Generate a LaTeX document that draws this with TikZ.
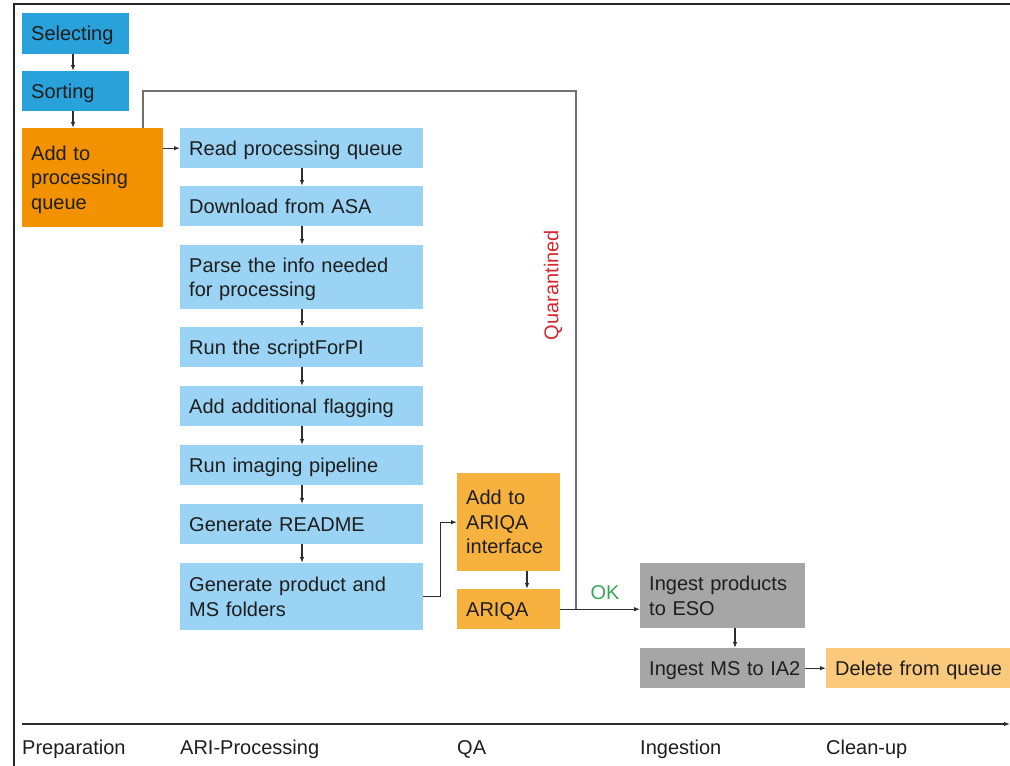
\documentclass[tikz,border=0pt]{standalone}
\usepackage{fontspec}
\setmainfont{Liberation Sans}
\usetikzlibrary{arrows.meta}
\definecolor{bluedark}{HTML}{29A1DB}
\definecolor{bluelight}{HTML}{9AD3F3}
\definecolor{orangedark}{HTML}{F39200}
\definecolor{orangemid}{HTML}{F6B13E}
\definecolor{orangelight}{HTML}{FAC97C}
\definecolor{greybox}{HTML}{A6A6A6}
\definecolor{txt}{HTML}{1E1E1E}
\definecolor{conn}{HTML}{2E2E2E}
\definecolor{qline}{HTML}{707070}
\definecolor{okgreen}{HTML}{3BA55A}
\definecolor{qred}{HTML}{D7262F}
\tikzset{
  box/.style={anchor=north west, inner xsep=9pt, inner ysep=0pt, align=left,
    text=txt, font=\fontsize{20}{24.5}\selectfont, text height=14.3pt, text depth=0pt},
  two/.style={text depth=24.5pt},
  three/.style={text depth=49pt},
  arr/.style={draw=conn, line width=1.1pt, -{Latex[length=6pt,width=4.5pt]}},
  axlabel/.style={anchor=base west, inner sep=0pt, text=txt, font=\fontsize{20}{24}\selectfont},
}
\begin{document}
\begin{tikzpicture}[x=1pt,y=-1pt]
\useasboundingbox (0,0) rectangle (1010,766);
% frame
\draw[line width=2pt, black!85] (14,767) -- (14,3.5) -- (1011,3.5);
% preparation
\node[box, fill=bluedark, text width=89pt, minimum height=41pt] (sel) at (22,13) {Selecting};
\node[box, fill=bluedark, text width=89pt, minimum height=40pt] (sort) at (22,71) {Sorting};
\node[box, three, fill=orangedark, text width=123pt, minimum height=99pt] (addq) at (22,128) {Add to\\processing\\queue};
% processing
\node[box, fill=bluelight, text width=225pt, minimum height=40pt] (read) at (180,128) {Read processing queue};
\node[box, fill=bluelight, text width=225pt, minimum height=40pt] (dl) at (180,186) {Download from ASA};
\node[box, two, fill=bluelight, text width=225pt, minimum height=64pt] (parse) at (180,245) {Parse the info needed\\for processing};
\node[box, fill=bluelight, text width=225pt, minimum height=40pt] (run) at (180,327) {Run the scriptForPI};
\node[box, fill=bluelight, text width=225pt, minimum height=40pt] (flag) at (180,386) {Add additional flagging};
\node[box, fill=bluelight, text width=225pt, minimum height=40pt] (img) at (180,445) {Run imaging pipeline};
\node[box, fill=bluelight, text width=225pt, minimum height=40pt] (readme) at (180,504) {Generate README};
\node[box, two, fill=bluelight, text width=225pt, minimum height=67pt] (gen) at (180,563) {Generate product and\\MS folders};
% QA
\node[box, three, fill=orangemid, text width=85pt, minimum height=98pt] (ariqaif) at (457,473) {Add to\\ARIQA\\interface};
\node[box, fill=orangemid, text width=85pt, minimum height=40pt] (ariqa) at (457,589) {ARIQA};
% ingestion
\node[box, two, fill=greybox, text width=147pt, minimum height=65pt] (ingp) at (640,563) {Ingest products\\to ESO};
\node[box, fill=greybox, text width=147pt, minimum height=40pt] (ingm) at (640,648) {\mbox{Ingest MS to IA2}};
% clean-up
\node[box, fill=orangelight, text width=166pt, minimum height=40pt] (del) at (826,648) {\mbox{Delete from queue}};
% connectors
\draw[arr] (sel.south -| 73,0) -- (sort.north -| 73,0);
\draw[arr] (sort.south -| 73,0) -- (addq.north -| 73,0);
\draw[arr] (read.west -| addq.east) -- (read.west);
\draw[arr] (read.south -| 302,0) -- (dl.north -| 302,0);
\draw[arr] (dl.south -| 302,0) -- (parse.north -| 302,0);
\draw[arr] (parse.south -| 302,0) -- (run.north -| 302,0);
\draw[arr] (run.south -| 302,0) -- (flag.north -| 302,0);
\draw[arr] (flag.south -| 302,0) -- (img.north -| 302,0);
\draw[arr] (img.south -| 302,0) -- (readme.north -| 302,0);
\draw[arr] (readme.south -| 302,0) -- (gen.north -| 302,0);
\draw[arr] (gen.east) -- ++(17,0) |- (ariqaif.west);
\draw[arr] (ariqaif.south -| 527,0) -- (ariqa.north -| 527,0);
\draw[arr] (ariqa.east) -- (ariqa.east -| ingp.west);
\draw[arr] (ingp.south -| 735,0) -- (ingm.north -| 735,0);
\draw[arr] (ingm.east) -- (del.west);
% quarantined loop
\coordinate (qj) at (576,609);
\coordinate (qt) at (576,91);
\draw[draw=qline, line width=1.4pt] (qj) -- (qt) -| (addq.north -| 143,0);
\node[text=qred, rotate=90, font=\fontsize{20}{24}\selectfont, inner sep=0pt] (qlab) at (553,285) {Quarantined};
\node[text=okgreen, font=\fontsize{20}{24}\selectfont, inner sep=0pt] (ok) at (605,593) {OK};
% time axis
\coordinate (ax0) at (22,724);
\coordinate (ax1) at (1010,724);
\draw[arr] (ax0) -- (ax1);
\node[axlabel] (lprep) at (22,754) {Preparation};
\node[axlabel] (lproc) at (180,754) {ARI-Processing};
\node[axlabel] (lqa) at (457,754) {QA};
\node[axlabel] (ling) at (640,754) {Ingestion};
\node[axlabel] (lclean) at (826,754) {Clean-up};
\end{tikzpicture}
\end{document}
